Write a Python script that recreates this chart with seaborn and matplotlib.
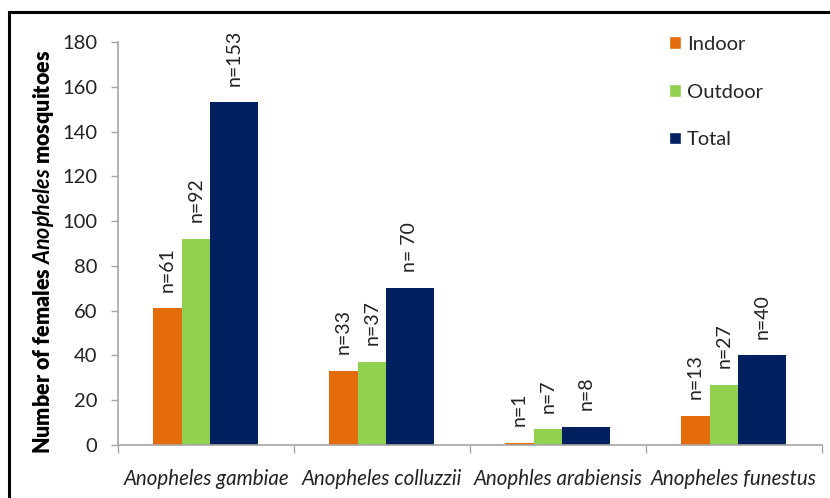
import matplotlib
matplotlib.use("Agg")
import matplotlib.pyplot as plt
import matplotlib.patches as mpatches
import seaborn as sns
import pandas as pd

species = ["Anopheles gambiae", "Anopheles colluzzii", "Anophles arabiensis", "Anopheles funestus"]
locations = ["Indoor", "Outdoor", "Total"]
indoor = [61, 33, 1, 13]
outdoor = [92, 37, 7, 27]
total = [153, 70, 8, 40]
bar_labels = {
    "Indoor": ["n=61", "n=33", "n=1", "n=13"],
    "Outdoor": ["n=92", "n=37", "n=7", "n=27"],
    "Total": ["n=153", "n= 70", "n=8", "n=40"],
}
yticks = [0, 20, 40, 60, 80, 100, 120, 140, 160, 180]

colors = {"Indoor": "#E46C0A", "Outdoor": "#92D050", "Total": "#002060"}

df = pd.DataFrame({
    "species": species * 3,
    "location": [l for l in locations for _ in species],
    "count": indoor + outdoor + total,
})

sns.set_theme(style="white")
font = "Lato"
plt.rcParams["font.family"] = [font, "DejaVu Sans"]
plt.rcParams["mathtext.fontset"] = "custom"
plt.rcParams["mathtext.rm"] = font
plt.rcParams["mathtext.bf"] = f"{font}:bold"
plt.rcParams["mathtext.it"] = f"{font}:italic"
plt.rcParams["mathtext.bfit"] = f"{font}:italic:bold"

fig = plt.figure(figsize=(8.3, 4.98), dpi=100)
ax = fig.add_axes([118 / 830, 1 - 445 / 498, 704 / 830, 403 / 498])

sns.barplot(data=df, x="species", y="count", hue="location",
            order=species, hue_order=locations, palette=colors,
            errorbar=None, saturation=1, ax=ax)

# Side-by-side layout: the Total bar is wider than the two others
edges = {"Indoor": (-0.301, -0.136), "Outdoor": (-0.136, 0.020), "Total": (0.020, 0.295)}
for cont, loc in zip(ax.containers, locations):
    lo, hi = edges[loc]
    for i, (bar, txt) in enumerate(zip(cont.patches, bar_labels[loc])):
        bar.set_x(i + lo)
        bar.set_width(hi - lo)
        bar.set_edgecolor("none")
        ax.annotate(txt, (i + (lo + hi) / 2, bar.get_height()),
                    xytext=(0, 12), textcoords="offset points",
                    rotation=90, ha="center", va="bottom",
                    fontsize=14, color="#222222")

ax.set_xlim(-0.5, 3.5)
ax.set_ylim(0, 180)
ax.set_yticks(yticks)
ax.tick_params(axis="y", left=True, length=5, width=1, color="#A6A6A6",
               labelsize=14.5, labelcolor="#222222", pad=10)
ax.set_xticks(range(len(species)))
ax.set_xticklabels(species, fontstyle="italic", fontsize=14.8, color="#222222")
ax.tick_params(axis="x", which="major", length=0, pad=17)
ax.set_xticks([-0.5, 0.5, 1.5, 2.5, 3.5], minor=True)
ax.tick_params(axis="x", which="minor", bottom=True, length=6, width=1, color="#A6A6A6")

for side in ["top", "right"]:
    ax.spines[side].set_visible(False)
for side in ["left", "bottom"]:
    ax.spines[side].set_color("#A6A6A6")
    ax.spines[side].set_linewidth(1.2)

ax.set_xlabel("")
ax.set_ylabel(r"Number of females $\mathbfit{Anopheles}$ mosquitoes",
              fontsize=15.5, fontweight="heavy", color="black")
ax.yaxis.set_label_coords(-0.088, 0.48)

sns.move_legend(ax, loc="upper left", bbox_to_anchor=(0.757, 1.06),
                title=None, frameon=False, fontsize=14.5,
                handlelength=0.6, handleheight=0.6, handletextpad=0.3,
                labelspacing=1.52)

fig.patches.append(mpatches.Rectangle((9 / 830, -0.1), 1.2, 1 - 12 / 498 + 0.1,
                                      transform=fig.transFigure, fill=False,
                                      edgecolor="black", linewidth=2.2))

fig.savefig("out.png", dpi=100)
